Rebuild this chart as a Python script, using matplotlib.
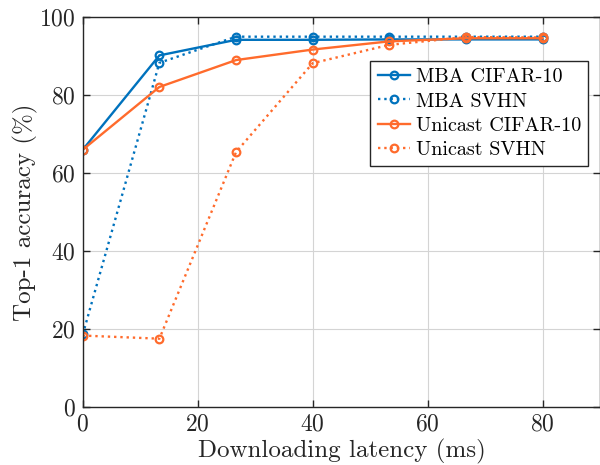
import matplotlib

matplotlib.use("Agg")
import matplotlib.pyplot as plt

latency = [0, 13.33, 26.67, 40, 53.33, 66.67, 80]
mba_cifar = [66.0, 90.2, 94.2, 94.2, 94.3, 94.3, 94.3]
mba_svhn = [18.6, 88.3, 95.0, 95.0, 95.0, 95.0, 95.0]
uni_cifar = [66.0, 82.1, 89.0, 91.7, 93.8, 94.6, 94.6]
uni_svhn = [18.3, 17.5, 65.4, 88.2, 92.9, 94.9, 94.8]

BLUE = "#0072BD"
ORANGE = "#FF6B2C"

plt.rcParams["font.family"] = ["cmr10", "DejaVu Serif"]
plt.rcParams["axes.formatter.use_mathtext"] = True

fig = plt.figure(figsize=(6, 4.65), dpi=100)
ax = fig.add_axes([0.138, 0.125, 0.862, 0.838])

style = dict(marker="o", markersize=5.5, markerfacecolor="none", markeredgewidth=1.6, linewidth=1.7)
ax.plot(latency, mba_cifar, color=BLUE, linestyle="-", label="MBA CIFAR-10", **style)
ax.plot(latency, mba_svhn, color=BLUE, linestyle=":", label="MBA SVHN", **style)
ax.plot(latency, uni_cifar, color=ORANGE, linestyle="-", label="Unicast CIFAR-10", **style)
ax.plot(latency, uni_svhn, color=ORANGE, linestyle=":", label="Unicast SVHN", **style)

ax.set_xlim(0, 90)
ax.set_ylim(0, 100)
ax.set_xticks([0, 20, 40, 60, 80])
ax.set_yticks([0, 20, 40, 60, 80, 100])
ax.grid(color="#d4d4d4", linewidth=0.8)
ax.set_axisbelow(True)
ax.tick_params(direction="in", labelsize=17, length=5, width=1, top=True, right=True,
               colors="#262626", pad=5)
for sp in ax.spines.values():
    sp.set_color("#262626")
    sp.set_linewidth(1.0)
ax.set_xlabel("Downloading latency (ms)", fontsize=18, color="#262626", labelpad=2)
ax.set_ylabel("Top-1 accuracy (%)", fontsize=18, color="#262626", labelpad=1)

leg = ax.legend(loc="upper right", bbox_to_anchor=(0.977, 0.887), fontsize=14.5, fancybox=False,
                framealpha=1, edgecolor="#262626", borderpad=0.35, labelspacing=0.3,
                handlelength=1.6, handletextpad=0.3, borderaxespad=0)
leg.get_frame().set_linewidth(1.0)

fig.savefig("out.png", dpi=100)
